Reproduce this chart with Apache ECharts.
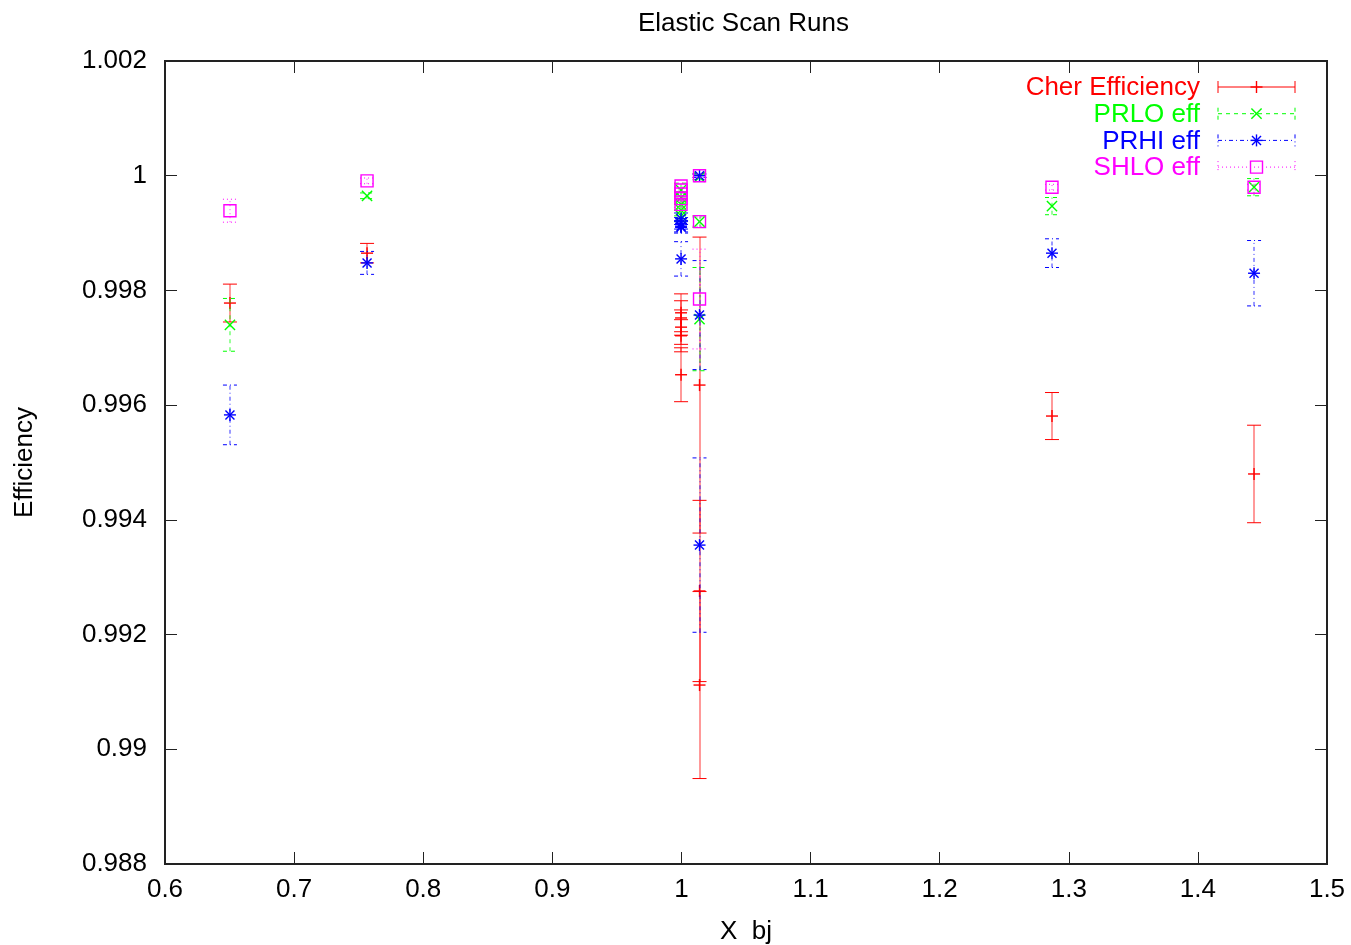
<!DOCTYPE html>
<html>
<head>
<meta charset="utf-8">
<script src="https://cdn.jsdelivr.net/npm/echarts@6/dist/echarts.min.js"></script>
<style>html,body{margin:0;padding:0;background:#fff;}#chart{width:1351px;height:945px;}</style>
</head>
<body>
<div id="chart"></div>
<script>
// ---- data ----
const runX    = [0.6503, 0.7565, 0.9997, 0.9997, 0.9997, 0.9997, 0.9997, 1.0140, 1.0140, 1.0140, 1.2870, 1.4435];
const cherEff = [0.99778, 0.99865, 0.99761, 0.99752, 0.99736, 0.99721, 0.99653, 0.99635, 0.99276, 0.99112, 0.99581, 0.99480];
const cherErr = [0.00033, 0.00017, 0.00033, 0.00030, 0.00030, 0.00028, 0.00047, 0.00258, 0.00158, 0.00163, 0.00041, 0.00085];
const prloEff = [0.99740, 0.99965, 0.99975, 0.99962, 0.99950, 0.99940, 0.99930, 0.99998, 0.99920, 0.99750, 0.99947, 0.99980];
const prloErr = [0.00046, 0.00005, 0.00012, 0.00010, 0.00010, 0.00010, 0.00010, 0.00005, 0.00010, 0.00090, 0.00015, 0.00015];
const prhiEff = [0.99583, 0.99848, 0.99925, 0.99917, 0.99912, 0.99910, 0.99855, 1.00000, 0.99757, 0.99356, 0.99865, 0.99830];
const prhiErr = [0.00052, 0.00020, 0.00010, 0.00010, 0.00010, 0.00010, 0.00030, 0.00003, 0.00095, 0.00152, 0.00025, 0.00057];
const shloEff = [0.99939, 0.99991, 0.99982, 0.99975, 0.99968, 0.99960, 0.99950, 1.00000, 0.99920, 0.99785, 0.99980, 0.99980];
const shloErr = [0.00020, 0.00005, 0.00005, 0.00005, 0.00005, 0.00005, 0.00005, 0.00003, 0.00008, 0.00087, 0.00005, 0.00005];
const seriesNames = ['Cher Efficiency', 'PRLO eff', 'PRHI eff', 'SHLO eff'];
const yTicks = { min: 0.988, max: 1.002, step: 0.002 };
const xTicks = { min: 0.6, max: 1.5, step: 0.1 };

// ---- styles ----
const FONT = "'Liberation Sans', Arial, Helvetica, sans-serif";
const FS = 26;
const styles = [
  { color: '#ff0000', dash: null,         sym: 'plus' },
  { color: '#00ff00', dash: [4, 4],       sym: 'cross' },
  { color: '#0000ff', dash: [4, 3, 1, 3], sym: 'star' },
  { color: '#ff00ff', dash: [1, 3],       sym: 'square' }
];
const S = 6;   // symbol half size
const CAP = 7; // cap half width

function line(x1, y1, x2, y2, color, dash, op, w) {
  return { type: 'line', shape: { x1, y1, x2, y2 },
    style: { stroke: color, lineWidth: w || 1, lineDash: dash || null, opacity: op == null ? 1 : op } };
}
function symbolEls(kind, cx, cy, color) {
  const els = [];
  const w = 1.4;
  if (kind === 'plus' || kind === 'star') {
    els.push(line(cx - S, cy, cx + S, cy, color, null, 1, w));
    els.push(line(cx, cy - S, cx, cy + S, color, null, 1, w));
  }
  if (kind === 'cross' || kind === 'star') {
    const d = kind === 'star' ? S * 0.75 : S * 0.85;
    els.push(line(cx - d, cy - d, cx + d, cy + d, color, null, 1, w));
    els.push(line(cx - d, cy + d, cx + d, cy - d, color, null, 1, w));
  }
  if (kind === 'square') {
    els.push({ type: 'rect', shape: { x: cx - S, y: cy - S, width: 2 * S, height: 2 * S },
      style: { fill: 'none', stroke: color, lineWidth: w } });
  }
  return els;
}

function makeRender(st) {
  return function (params, api) {
    const x = api.value(0), y = api.value(1), e = api.value(2);
    const c = api.coord([x, y]);
    const t = api.coord([x, y + e]);
    const b = api.coord([x, y - e]);
    const color = st.color;
    const xl = Math.round(c[0]);
    const children = [
      line(xl, b[1], xl, t[1], color, st.dash, 0.8),
      line(c[0] - CAP, t[1], c[0] + CAP, t[1], color, st.dash),
      line(c[0] - CAP, b[1], c[0] + CAP, b[1], color, st.dash)
    ].concat(symbolEls(st.sym, c[0], c[1], color));
    return { type: 'group', children };
  };
}

const effs = [cherEff, prloEff, prhiEff, shloEff];
const errs = [cherErr, prloErr, prhiErr, shloErr];

const series = seriesNames.map((name, i) => ({
  name, type: 'custom', xAxisIndex: 0, yAxisIndex: 0,
  renderItem: makeRender(styles[i]),
  itemStyle: { color: styles[i].color },
  encode: { x: 0, y: 1 },
  data: runX.map((x, k) => [x, effs[i][k], errs[i][k]]),
  z: 2 + i
}));

// ---- legend (gnuplot style key) ----
const legendEls = [];
const keyTextRight = 1200, keyX1 = 1218, keyX2 = 1295, keyY0 = 87, keyDY = 26.7;
seriesNames.forEach((name, i) => {
  const y = keyY0 + i * keyDY;
  const st = styles[i];
  legendEls.push({ type: 'text', x: keyTextRight, y: y + 1,
    style: { text: name, fill: st.color, font: FS + 'px ' + FONT, textAlign: 'right', textVerticalAlign: 'middle' } });
  legendEls.push(line(keyX1, y, keyX2, y, st.color, st.dash));
  legendEls.push(line(keyX1, y - 6, keyX1, y + 6, st.color, st.dash));
  legendEls.push(line(keyX2, y - 6, keyX2, y + 6, st.color, st.dash));
  symbolEls(st.sym, (keyX1 + keyX2) / 2, y, st.color).forEach(e => legendEls.push(e));
});

const tickCommon = { inside: true, length: 12, lineStyle: { color: '#222', width: 1 } };
const labelFont = { color: '#000', fontSize: FS, fontFamily: FONT };

const option = {
  animation: false,
  backgroundColor: '#fff',
  title: { text: 'Elastic Scan Runs', left: 633, top: 6,
    textStyle: { color: '#000', fontSize: FS, fontWeight: 'normal', fontFamily: FONT } },
  grid: { left: 165, right: 24, top: 61, bottom: 81, show: true, borderColor: '#222', borderWidth: 2,
    backgroundColor: 'transparent', containLabel: false, outerBoundsMode: 'none' },
  xAxis: [
    { type: 'value', min: xTicks.min, max: xTicks.max, interval: xTicks.step, position: 'bottom',
      name: 'X  bj', nameLocation: 'middle', nameGap: 55,
      nameTextStyle: { color: '#000', fontSize: FS, fontFamily: FONT },
      axisLine: { show: false }, axisTick: tickCommon, splitLine: { show: false },
      axisLabel: Object.assign({ margin: 13, formatter: v => String(+v.toFixed(1)) }, labelFont) },
    { type: 'value', min: xTicks.min, max: xTicks.max, interval: xTicks.step, position: 'top',
      axisLine: { show: false }, axisTick: tickCommon, splitLine: { show: false }, axisLabel: { show: false } }
  ],
  yAxis: [
    { type: 'value', min: yTicks.min, max: yTicks.max, interval: yTicks.step, position: 'left',
      name: 'Efficiency', nameLocation: 'middle', nameGap: 127, nameRotate: 90,
      nameTextStyle: { color: '#000', fontSize: FS, fontFamily: FONT },
      axisLine: { show: false }, axisTick: tickCommon, splitLine: { show: false },
      axisLabel: Object.assign({ margin: 18, formatter: v => String(+v.toFixed(3)) }, labelFont) },
    { type: 'value', min: yTicks.min, max: yTicks.max, interval: yTicks.step, position: 'right',
      axisLine: { show: false }, axisTick: tickCommon, splitLine: { show: false }, axisLabel: { show: false } }
  ],
  graphic: legendEls,
  series
};

const chart = echarts.init(document.getElementById('chart'), null, { renderer: 'canvas' });
chart.setOption(option);
</script>
</body>
</html>
